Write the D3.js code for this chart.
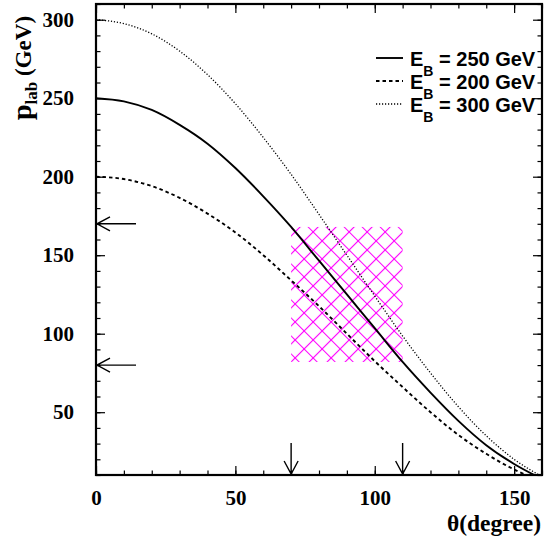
<!DOCTYPE html>
<html>
<head>
<meta charset="utf-8">
<script src="https://cdn.jsdelivr.net/npm/d3@7/dist/d3.min.js"></script>
<style>
  body { margin: 0; background: #fff; }
  svg { display: block; }
</style>
</head>
<body>
<svg id="chart" width="545" height="541"></svg>
<script>
// Lab momentum versus polar angle for three beam energies
const theta = [0, 10, 20, 30, 40, 50, 60, 70, 80, 90, 100, 110, 120, 130, 140, 150, 160];
const p250  = [250, 248, 242.5, 233, 221, 205.5, 187.5, 168, 146.5, 125, 103.5, 82, 62.5, 44.5, 29, 17, 7.5];
const p200  = [200, 198.5, 194, 186.5, 176.5, 164.5, 150, 134, 117.5, 100, 82.5, 66, 50, 35.5, 23.5, 13.5, 6];
const p300  = [300, 297.5, 291, 280, 265, 246.5, 225, 201.5, 176, 150, 124, 98.5, 75, 53.5, 35, 20, 9];

const seriesLabels = ["250", "200", "300"];
const xMajor = [0, 50, 100, 150];
const yMajor = [50, 100, 150, 200, 250, 300];
const thetaCuts = [70, 110];     // arrows on the angle axis
const momentumCuts = [80, 170];  // arrows on the momentum axis
const boxTheta = [70, 110];      // hatched acceptance window
const boxMomentum = [82, 168];

const svg = d3.select("#chart");
const x = d3.scaleLinear([0, 160], [96, 542]);
const y = d3.scaleLinear([10, 310], [475, 4]);

const serif = "'Liberation Serif', 'Times New Roman', serif";
const sans = "'Liberation Sans', Arial, sans-serif";

// clip for the curves
svg.append("defs").append("clipPath").attr("id", "plotClip")
  .append("rect")
  .attr("x", x(0)).attr("y", y(310))
  .attr("width", x(160) - x(0)).attr("height", y(10) - y(310));

// cross-hatch pattern
const hatch = svg.select("defs").append("pattern")
  .attr("id", "xhatch")
  .attr("patternUnits", "userSpaceOnUse")
  .attr("width", 12.73).attr("height", 12.73)
  .attr("patternTransform", `translate(${x(boxTheta[0]) + 4},${y(boxMomentum[1]) - 4}) rotate(45)`);
hatch.append("path")
  .attr("d", "M0,6.365H12.73M6.365,0V12.73")
  .attr("stroke", "#ff00ff").attr("stroke-width", 1.1).attr("fill", "none");

svg.append("rect")
  .attr("x", x(boxTheta[0])).attr("y", y(boxMomentum[1]))
  .attr("width", x(boxTheta[1]) - x(boxTheta[0]))
  .attr("height", y(boxMomentum[0]) - y(boxMomentum[1]))
  .attr("fill", "url(#xhatch)");

// curves
const series = [
  { values: p250, dash: null, width: 1.9 },
  { values: p200, dash: "3.5,3", width: 1.9 },
  { values: p300, dash: "1.2,1.8", width: 1.3 }
];
const line = d3.line()
  .x((d, i) => x(theta[i]))
  .y(d => y(d))
  .curve(d3.curveMonotoneX);

const curves = svg.append("g").attr("clip-path", "url(#plotClip)");
series.forEach(s => {
  curves.append("path")
    .attr("d", line(s.values))
    .attr("fill", "none")
    .attr("stroke", "#000")
    .attr("stroke-width", s.width)
    .attr("stroke-dasharray", s.dash);
});

// axes: ticks pointing inward on all four sides
function minorTicks(domain) {
  return d3.range(domain[0], domain[1] + 0.001, 10);
}
const xMinor = minorTicks([0, 160]);
const yMinor = minorTicks([10, 310]);

const axes = [
  { gen: d3.axisBottom, scale: x, major: xMajor, minor: xMinor, tr: `translate(0,${y(10)})`, labels: true },
  { gen: d3.axisTop, scale: x, major: xMajor, minor: xMinor, tr: `translate(0,${y(310)})`, labels: false },
  { gen: d3.axisLeft, scale: y, major: yMajor, minor: yMinor, tr: `translate(${x(0)},0)`, labels: true },
  { gen: d3.axisRight, scale: y, major: yMajor, minor: yMinor, tr: `translate(${x(160)},0)`, labels: false }
];
axes.forEach(a => {
  const gMinor = svg.append("g").attr("transform", a.tr)
    .call(a.gen(a.scale).tickValues(a.minor).tickSize(-4.5).tickFormat(""));
  gMinor.select(".domain").remove();
  const gMajor = svg.append("g").attr("transform", a.tr)
    .call(a.gen(a.scale).tickValues(a.major).tickSize(-9)
      .tickPadding(a.gen === d3.axisBottom ? 15 : 22)
      .tickFormat(a.labels ? d3.format("d") : ""));
  gMajor.select(".domain").remove();
  gMajor.selectAll(".tick line").attr("stroke-width", 1.2);
  gMinor.selectAll(".tick line").attr("stroke-width", 1.2);
  gMajor.selectAll("text")
    .attr("font-family", serif).attr("font-weight", "bold")
    .attr("font-size", 21).attr("fill", "#000");
});

// frame
svg.append("rect")
  .attr("x", x(0)).attr("y", y(310))
  .attr("width", x(160) - x(0)).attr("height", y(10) - y(310))
  .attr("fill", "none").attr("stroke", "#000").attr("stroke-width", 2.2);

// cut arrows
const arrows = svg.append("g").attr("stroke", "#000").attr("stroke-width", 1.4).attr("fill", "none");
momentumCuts.forEach(v => {
  const yy = y(v), x0 = x(0) + 1;
  arrows.append("path")
    .attr("d", `M${x0 + 39},${yy}H${x0}M${x0 + 13},${yy - 7}L${x0},${yy}L${x0 + 13},${yy + 7}`);
});
thetaCuts.forEach(v => {
  const xx = x(v), y0 = y(10) - 1;
  arrows.append("path")
    .attr("d", `M${xx},${y0 - 31}V${y0}M${xx - 7},${y0 - 13}L${xx},${y0}L${xx + 7},${y0 - 13}`);
});

// legend
const legend = svg.append("g");
series.forEach((s, i) => {
  const ly = 58 + i * 23;
  legend.append("line")
    .attr("x1", 376).attr("x2", 403).attr("y1", ly).attr("y2", ly)
    .attr("stroke", "#000").attr("stroke-width", s.width)
    .attr("stroke-dasharray", s.dash);
  const t = legend.append("text")
    .attr("x", 410).attr("y", ly + 8)
    .attr("font-family", sans).attr("font-weight", "bold")
    .attr("font-size", 20).attr("fill", "#000");
  t.append("tspan").text("E");
  t.append("tspan").attr("font-size", 14).attr("dy", 10).text("B");
  t.append("tspan").attr("dy", -10).text(` = ${seriesLabels[i]} GeV`);
});

// axis titles
svg.append("text")
  .attr("x", 541).attr("y", 531)
  .attr("text-anchor", "end")
  .attr("font-family", serif).attr("font-weight", "bold")
  .attr("font-size", 23.5).attr("fill", "#000")
  .text("θ(degree)");

const yt = svg.append("text")
  .attr("transform", "translate(31,120) rotate(-90)")
  .attr("font-family", serif).attr("font-weight", "bold")
  .attr("font-size", 23).attr("fill", "#000");
yt.append("tspan").attr("font-size", 28).text("p");
yt.append("tspan").attr("font-size", 17).attr("dy", 6).text("lab");
yt.append("tspan").attr("dy", -6).text(" (GeV)");
</script>
</body>
</html>
